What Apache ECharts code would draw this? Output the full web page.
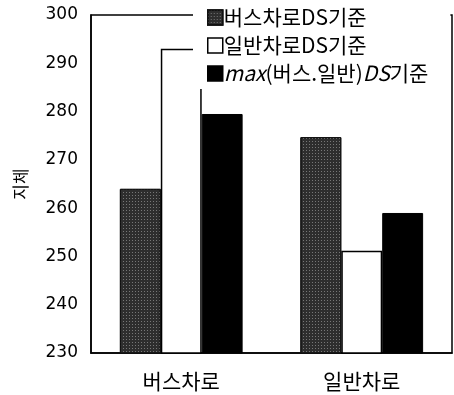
<!DOCTYPE html>
<html>
<head>
<meta charset="utf-8">
<script src="https://cdn.jsdelivr.net/npm/echarts@6/dist/echarts.min.js"></script>
<style>
html, body { margin: 0; padding: 0; background: #fff; }
#chart { width: 454px; height: 395px; }
</style>
</head>
<body>
<div id="chart"></div>
<script>
// 데이터
var categories = ['버스차로', '일반차로'];
var seriesNames = ['버스차로DS기준', '일반차로DS기준', 'max(버스.일반)DS기준'];
var busDS = [264, 274.7];
var generalDS = [293, 251.2];
var maxDS = [279.5, 259];
var yTicks = { min: 230, max: 300, step: 10 };

var chart = echarts.init(document.getElementById('chart'));
var labelFont = 'DejaVu Sans, Liberation Sans, sans-serif';
var cjkFont = '"Noto Sans CJK KR", sans-serif';

var option = {
  animation: false,
  grid: {
    left: 91, right: 2, top: 15, bottom: 42,
    show: true, borderColor: '#000', borderWidth: 1.5, backgroundColor: 'transparent'
  },
  legend: {
    orient: 'vertical',
    left: 193, top: 0,
    backgroundColor: '#fff',
    padding: [7, 22, 5, 14],
    icon: 'rect',
    itemWidth: 15, itemHeight: 15,
    itemGap: 7,
    itemStyle: { borderWidth: 1.5 },
    textStyle: {
      fontFamily: cjkFont, fontSize: 21, color: '#000', padding: [0, 0, 0, -4],
      rich: { i: { fontFamily: cjkFont, fontSize: 21, fontStyle: 'italic', color: '#000' } }
    },
    formatter: function (name) {
      if (name === seriesNames[2]) return '{i|max}(버스.일반){i|DS}기준';
      return name;
    },
    data: seriesNames
  },
  xAxis: {
    type: 'category',
    data: categories,
    axisLine: { lineStyle: { color: '#000', width: 1.5 } },
    axisTick: { show: false },
    axisLabel: { fontFamily: cjkFont, fontSize: 21, color: '#000', margin: 18 }
  },
  yAxis: {
    type: 'value',
    min: yTicks.min, max: yTicks.max, interval: yTicks.step,
    name: '지체',
    nameLocation: 'middle',
    nameRotate: 90,
    nameGap: 62,
    nameTextStyle: { fontFamily: cjkFont, fontSize: 17, color: '#000' },
    axisLine: { show: true, lineStyle: { color: '#000', width: 1.5 } },
    axisTick: { show: false },
    splitLine: { show: false },
    axisLabel: { fontFamily: labelFont, fontSize: 17, color: '#000', margin: 13 }
  },
  series: [
    {
      name: seriesNames[0], type: 'bar', data: busDS,
      barGap: '0%', barCategoryGap: '32%',
      itemStyle: {
        color: '#2e2e2e', borderColor: '#111', borderWidth: 1,
        decal: { symbol: 'rect', symbolSize: 1, color: 'rgba(255,255,255,0.35)', dashArrayX: [1, 2], dashArrayY: [1, 2] }
      }
    },
    {
      name: seriesNames[1], type: 'bar', data: generalDS,
      barGap: '0%', barCategoryGap: '32%',
      itemStyle: { color: '#fff', borderColor: '#000', borderWidth: 1.5 }
    },
    {
      name: seriesNames[2], type: 'bar', data: maxDS,
      barGap: '0%', barCategoryGap: '32%',
      itemStyle: { color: '#000', borderColor: '#000', borderWidth: 1 }
    }
  ]
};
chart.setOption(option);
</script>
</body>
</html>
